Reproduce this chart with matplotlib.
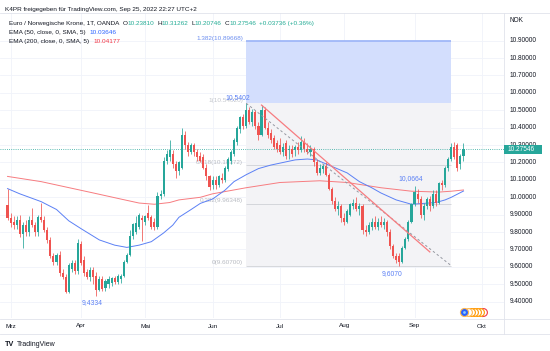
import matplotlib
matplotlib.use("Agg")
import matplotlib.pyplot as plt
import matplotlib.transforms as mtrans
from matplotlib.patches import Rectangle
from matplotlib.lines import Line2D
import pandas as pd

plt.rcParams['font.family'] = ['Liberation Sans', 'DejaVu Sans']

# ---------------- data ----------------
first_day = '2022-02-28'
opens = [9.955, 9.88, 9.86, 9.84, 9.87, 9.79, 9.84, 9.80, 9.87, 9.84,
         9.80, 9.885, 9.87, 9.81, 9.755, 9.66, 9.63, 9.67, 9.565, 9.54,
         9.455, 9.59, 9.62, 9.575, 9.73, 9.64, 9.57, 9.54, 9.58, 9.55,
         9.47, 9.53, 9.48, 9.50, 9.51, 9.535, 9.515, 9.53, 9.55, 9.63,
         9.67, 9.78, 9.80, 9.83, 9.88, 9.86, 9.91, 9.885, 9.86, 9.83,
         10.01, 10.02, 10.21, 10.23, 10.25, 10.19, 10.15, 10.17, 10.36, 10.30,
         10.26, 10.30, 10.26, 10.24, 10.23, 10.17, 10.12, 10.07, 10.10, 10.07,
         10.11, 10.10, 10.16, 10.21, 10.25, 10.32, 10.39, 10.46, 10.41, 10.50,
         10.43, 10.49, 10.41, 10.36, 10.50, 10.40, 10.37, 10.34, 10.31, 10.30,
         10.26, 10.31, 10.27, 10.28, 10.27, 10.29, 10.27, 10.32, 10.28, 10.26,
         10.28, 10.20, 10.14, 10.16, 10.18, 10.13, 10.05, 9.98, 9.93, 9.95,
         9.88, 9.86, 9.90, 9.95, 9.97, 9.93, 9.95, 9.81, 9.80, 9.83,
         9.86, 9.83, 9.86, 9.84, 9.86, 9.80, 9.72, 9.66, 9.66, 9.63,
         9.71, 9.76, 9.86, 9.96, 10.02, 9.99, 9.90, 9.95, 9.99, 9.95,
         10.02, 9.97, 10.08, 10.07, 10.17, 10.22, 10.29, 10.30, 10.19, 10.2381]
highs = [10.05, 9.91, 9.89, 9.89, 9.90, 9.86, 9.87, 9.89, 9.94, 9.86,
         9.90, 9.97, 9.89, 9.83, 9.77, 9.68, 9.68, 9.69, 9.59, 9.56,
         9.62, 9.64, 9.64, 9.76, 9.75, 9.66, 9.59, 9.60, 9.60, 9.57,
         9.55, 9.55, 9.53, 9.55, 9.54, 9.55, 9.56, 9.56, 9.64, 9.68,
         9.81, 9.85, 9.89, 9.91, 9.90, 9.90, 9.955, 9.90, 9.88, 10.03,
         10.04, 10.23, 10.27, 10.33, 10.27, 10.21, 10.21, 10.40, 10.38, 10.32,
         10.31, 10.31, 10.28, 10.26, 10.25, 10.19, 10.13, 10.12, 10.12, 10.13,
         10.14, 10.18, 10.23, 10.27, 10.34, 10.41, 10.47, 10.48, 10.5402, 10.52,
         10.51, 10.50, 10.43, 10.53, 10.52, 10.43, 10.39, 10.36, 10.33, 10.34,
         10.31, 10.33, 10.30, 10.30, 10.30, 10.32, 10.35, 10.34, 10.31, 10.30,
         10.29, 10.22, 10.19, 10.19, 10.20, 10.14, 10.06, 10.00, 9.98, 9.96,
         9.91, 9.93, 9.97, 9.99, 10.00, 9.97, 9.96, 9.84, 9.86, 9.88,
         9.89, 9.88, 9.89, 9.88, 9.87, 9.82, 9.73, 9.68, 9.68, 9.72,
         9.77, 9.87, 9.97, 10.0664, 10.05, 10.01, 9.97, 10.00, 10.01, 10.04,
         10.04, 10.09, 10.10, 10.18, 10.23, 10.31, 10.32, 10.31, 10.25, 10.31262]
lows = [9.87, 9.83, 9.82, 9.82, 9.77, 9.71, 9.78, 9.78, 9.83, 9.78,
        9.78, 9.86, 9.80, 9.74, 9.65, 9.61, 9.61, 9.55, 9.53, 9.45,
        9.45, 9.57, 9.56, 9.56, 9.61, 9.55, 9.53, 9.52, 9.50, 9.4334,
        9.46, 9.46, 9.46, 9.48, 9.49, 9.50, 9.50, 9.51, 9.54, 9.62,
        9.66, 9.76, 9.79, 9.82, 9.75, 9.84, 9.87, 9.82, 9.81, 9.82,
        9.99, 10.01, 10.19, 10.21, 10.17, 10.11, 10.13, 10.16, 10.28, 10.24,
        10.25, 10.24, 10.21, 10.20, 10.16, 10.10, 10.04, 10.05, 10.05, 10.06,
        10.08, 10.09, 10.15, 10.19, 10.24, 10.30, 10.37, 10.39, 10.40, 10.42,
        10.41, 10.39, 10.33, 10.35, 10.39, 10.34, 10.31, 10.28, 10.26, 10.25,
        10.24, 10.22, 10.22, 10.23, 10.24, 10.25, 10.26, 10.26, 10.25, 10.24,
        10.18, 10.13, 10.13, 10.14, 10.12, 10.04, 9.96, 9.92, 9.90, 9.86,
        9.84, 9.85, 9.89, 9.93, 9.92, 9.90, 9.79, 9.78, 9.79, 9.81,
        9.82, 9.81, 9.83, 9.82, 9.78, 9.70, 9.65, 9.62, 9.607, 9.62,
        9.70, 9.75, 9.85, 9.95, 9.97, 9.88, 9.87, 9.93, 9.92, 9.94,
        9.95, 9.96, 10.04, 10.06, 10.15, 10.21, 10.22, 10.15, 10.16, 10.20746]
closes = [9.88, 9.855, 9.84, 9.87, 9.79, 9.84, 9.80, 9.87, 9.84, 9.80,
          9.885, 9.87, 9.81, 9.755, 9.66, 9.63, 9.67, 9.565, 9.54, 9.455,
          9.61, 9.62, 9.575, 9.735, 9.62, 9.565, 9.54, 9.58, 9.54, 9.465,
          9.53, 9.475, 9.52, 9.53, 9.535, 9.515, 9.545, 9.55, 9.63, 9.67,
          9.78, 9.845, 9.855, 9.90, 9.87, 9.89, 9.88, 9.83, 9.83, 10.01,
          10.02, 10.21, 10.25, 10.27, 10.19, 10.15, 10.20, 10.36, 10.30, 10.26,
          10.30, 10.26, 10.23, 10.21, 10.17, 10.12, 10.06, 10.10, 10.07, 10.12,
          10.10, 10.17, 10.22, 10.26, 10.33, 10.40, 10.46, 10.41, 10.50, 10.43,
          10.49, 10.41, 10.36, 10.50, 10.40, 10.36, 10.33, 10.29, 10.28, 10.26,
          10.29, 10.24, 10.28, 10.25, 10.29, 10.27, 10.32, 10.28, 10.26, 10.28,
          10.20, 10.14, 10.17, 10.18, 10.13, 10.05, 9.98, 9.93, 9.95, 9.88,
          9.86, 9.92, 9.96, 9.97, 9.93, 9.95, 9.81, 9.80, 9.84, 9.86,
          9.83, 9.86, 9.84, 9.86, 9.80, 9.72, 9.66, 9.64, 9.63, 9.71,
          9.76, 9.86, 9.96, 10.03, 9.99, 9.90, 9.95, 9.99, 9.95, 10.02,
          9.97, 10.08, 10.07, 10.17, 10.22, 10.29, 10.23, 10.17, 10.2381, 10.27546]

ema50_idx = [0, 4, 11, 16, 20, 24, 30, 35, 39, 43, 47, 51, 54, 56, 60, 63, 67, 71, 74, 78,
             82, 86, 90, 94, 98, 101, 103, 107, 111, 115, 119, 122, 127, 132, 136, 140, 143, 145, 149]
ema50_val = [10.05, 10.02, 9.975, 9.93, 9.865, 9.82, 9.755, 9.725, 9.712, 9.725,
             9.745, 9.795, 9.84, 9.885, 9.93, 9.965, 9.99, 10.04, 10.09, 10.13,
             10.165, 10.185, 10.20, 10.215, 10.22, 10.215, 10.20, 10.17, 10.14, 10.09,
             10.055, 10.025, 9.985, 9.96, 9.965, 9.97, 9.985, 10.0, 10.036]
ema200_idx = [0, 11, 28, 37, 43, 48, 53, 56, 63, 67, 78, 89, 102, 111, 122, 132, 141, 145, 149]
ema200_val = [10.12, 10.09, 10.025, 9.99, 9.967, 9.96, 9.97, 9.985, 10.0, 10.02,
              10.055, 10.085, 10.095, 10.085, 10.055, 10.035, 10.03, 10.035, 10.042]

month_labels = ['Mrz', 'Apr', 'Mai', 'Jun', 'Jul', 'Aug', 'Sep', 'Okt']
price_ticks = [9.4, 9.5, 9.6, 9.7, 9.8, 9.9, 10.0, 10.1, 10.2, 10.3, 10.4, 10.5, 10.6, 10.7, 10.8, 10.9]

fib_anchor_idx = [78, 145]
fib_anchor_price = [10.5402, 9.607]
fib_ratios = [0, 0.382, 0.618, 1, 1.382]

trend_idx = [83, 138]
trend_price = [10.53, 9.686]

extreme_labels = ['10,5402', '9,4334', '9,6070', '10,0664']
extreme_idx = [78, 29, 128, 133]
extreme_price = [10.5402, 9.4334, 9.607, 10.0664]

header_title = 'K4PR freigegeben für TradingView.com, Sep 25, 2022 22:27 UTC+2'
symbol_text = 'Euro / Norwegische Krone, 1T, OANDA'
ohlc_text = ['10.23810', '10.31262', '10.20746', '10.27546']
change_text = '+0.03736 (+0.36%)'
ema50_text = ['EMA (50, close, 0, SMA, 5)', '10.03646']
ema200_text = ['EMA (200, close, 0, SMA, 5)', '10.04177']

# ---------------- layout ----------------
W, H = 550, 351
DARK = '#131722'
UP = '#26a69a'
DOWN = '#ef5350'
GRID = '#f0f3fa'
BORDER = '#e0e3eb'
FS = 4.6

def fx(x):
    return x / W

def fy(y):
    return 1 - y / H

fig = plt.figure(figsize=(W / 100, H / 100), dpi=100)
fig.patch.set_facecolor('white')
ax = fig.add_axes([0, fy(318), fx(504), (318 - 13) / H])
ax.set_xlim(-2.464, 162.24)
ax.set_ylim(9.3063, 11.0592)
ax.axis('off')

dates = pd.bdate_range(first_day, periods=len(closes) + 10)
month_pos = [i for i in range(1, len(dates)) if dates[i].month != dates[i - 1].month]

# grid
for p in price_ticks:
    ax.axhline(p, color=GRID, lw=0.6, zorder=0)
for mp in month_pos:
    ax.axvline(mp, color=GRID, lw=0.6, zorder=0)

# fib retracement
x0, x1 = fib_anchor_idx
hi, lo = fib_anchor_price
levels = [lo + r * (hi - lo) for r in fib_ratios]
ax.add_patch(Rectangle((x0, lo), x1 - x0, hi - lo, facecolor='#f3f3f6', edgecolor='none', zorder=0.6))
ax.add_patch(Rectangle((x0, hi), x1 - x0, levels[-1] - hi, facecolor='#d3defd', edgecolor='none', zorder=0.6))
for r, lv in zip(fib_ratios, levels):
    if r == 1.382:
        lc, tc, lw = '#9fb7f8', '#6d8ff0', 1.3
    elif r == 1:
        lc, tc, lw = '#d3defd', '#c3c6cc', 0.0
    else:
        lc, tc, lw = '#cfd1d6', '#b8bbc2', 0.6
    if lw > 0:
        ax.plot([x0, x1], [lv, lv], color=lc, lw=lw, zorder=0.7, solid_capstyle='butt')
    ax.annotate(f"{r:g}({lv:.5f})", xy=(x0, lv), xytext=(-3, 0.5), textcoords='offset pixels',
                ha='right', va='bottom', fontsize=FS, color=tc, annotation_clip=False, zorder=1)
ax.plot([x0, x1], [hi, lo], color='#9598a1', lw=0.7, ls=(0, (2.5, 2.5)), zorder=4)

# EMAs
ax.plot(ema200_idx, ema200_val, color='#f77c80', lw=0.7, zorder=2)
ax.plot(ema50_idx, ema50_val, color='#5b80f5', lw=0.7, zorder=2)

# candles
n = len(closes)
xs = list(range(n))
colors = [UP if c >= o else DOWN for o, c in zip(opens, closes)]
ax.vlines(xs, lows, highs, colors=colors, lw=0.55, zorder=3)
bottoms = [min(o, c) for o, c in zip(opens, closes)]
heights = [max(abs(c - o), 0.004) for o, c in zip(opens, closes)]
ax.bar(xs, heights, bottom=bottoms, width=0.68, color=colors, edgecolor='none', zorder=3.1)

# trend line
ax.plot(trend_idx, trend_price, color='#f77c80', lw=0.9, zorder=4)

# last price line
last = closes[-1]
ax.axhline(last, color=UP, lw=0.6, ls=(0, (1, 1.6)), zorder=1.5)

# extreme labels
offsets = [(-8, 6), (-4, -7), (-7, -8), (-4, 7)]
for t, i, p, (dx, dy) in zip(extreme_labels, extreme_idx, extreme_price, offsets):
    ax.annotate(t, xy=(i, p), xytext=(dx, dy), textcoords='offset pixels', ha='center',
                va='center', fontsize=FS + 0.3, color='#5b80f5', annotation_clip=False, zorder=5)

# frame lines
for (xa, ya, xb, yb) in [(0, 13, 550, 13), (0, 318.5, 550, 318.5), (0, 333.5, 550, 333.5),
                         (504, 13, 504, 333.5)]:
    fig.add_artist(Line2D([fx(xa), fx(xb)], [fy(ya), fy(yb)], color=BORDER, lw=0.6,
                          transform=fig.transFigure))

# price axis
trans_y = mtrans.blended_transform_factory(fig.transFigure, ax.transData)
for p in price_ticks:
    fig.text(fx(510), p, f"{p:.5f}", transform=trans_y, ha='left', va='center',
             fontsize=FS + 0.1, color=DARK, zorder=3)
fig.text(fx(510), fy(21), 'NOK', ha='left', va='center', fontsize=FS + 0.1, color=DARK)
box = Rectangle((fx(504), last - 0.0245), fx(38), 0.049, transform=trans_y,
                facecolor=UP, edgecolor='none', zorder=5)
fig.add_artist(box)
fig.text(fx(508), last, f"{last:.5f}", transform=trans_y, ha='left', va='center',
         fontsize=FS + 0.1, color='white', zorder=6)

# time axis
trans_x = mtrans.blended_transform_factory(ax.transData, fig.transFigure)
for mp, lab in zip(month_pos, month_labels):
    fig.text(mp, fy(326), lab, transform=trans_x, ha='center', va='center',
             fontsize=FS, color=DARK)

# event icons
for xe, ce in [(483, '#f23645'), (480, '#ff9800'), (477, '#ff9800'), (474, '#ff9800'),
               (471, '#ff9800'), (468, '#ffb74d')]:
    fig.add_artist(Line2D([fx(xe)], [fy(312)], marker='o', ms=5.6, mfc='white', mec=ce,
                          mew=0.8, transform=fig.transFigure))
fig.add_artist(Line2D([fx(464)], [fy(312)], marker='o', ms=5.8, mfc='#2962ff', mec='#ffb74d',
                      mew=0.8, transform=fig.transFigure))
fig.add_artist(Line2D([fx(464)], [fy(312)], marker='o', ms=2.0, mfc='#90caf9', mec='none',
                      transform=fig.transFigure))

# header
def chain(x, y, parts, size=FS):
    prev = fig.text(fx(x), fy(y), parts[0][0], color=parts[0][1], fontsize=size,
                    ha='left', va='center')
    for s, c, gap in parts[1:]:
        prev = ax.annotate(s, xy=(1, 0), xycoords=prev, xytext=(gap, 0),
                           textcoords='offset pixels', ha='left', va='bottom',
                           fontsize=size, color=c, annotation_clip=False)

fig.text(fx(5), fy(9), header_title, ha='left', va='center', fontsize=FS, color=DARK)
TEAL = '#22ab94'
chain(9, 23.3, [(symbol_text, DARK, 0), ('O', DARK, 3), (ohlc_text[0], TEAL, 0),
                ('H', DARK, 3), (ohlc_text[1], TEAL, 0), ('L', DARK, 3), (ohlc_text[2], TEAL, 0),
                ('C', DARK, 3), (ohlc_text[3], TEAL, 0), (change_text, TEAL, 3)])
chain(9, 32.3, [(ema50_text[0], DARK, 0), (ema50_text[1], '#2962ff', 4)])
chain(9, 41.7, [(ema200_text[0], DARK, 0), (ema200_text[1], '#f23645', 4)])

# footer logo
fig.text(fx(5), fy(344), 'TV', ha='left', va='center', fontsize=5.2, fontweight='bold', color=DARK)
fig.text(fx(17), fy(344), 'TradingView', ha='left', va='center', fontsize=5.0, color=DARK)

fig.savefig('out.png', dpi=100, facecolor='white')
